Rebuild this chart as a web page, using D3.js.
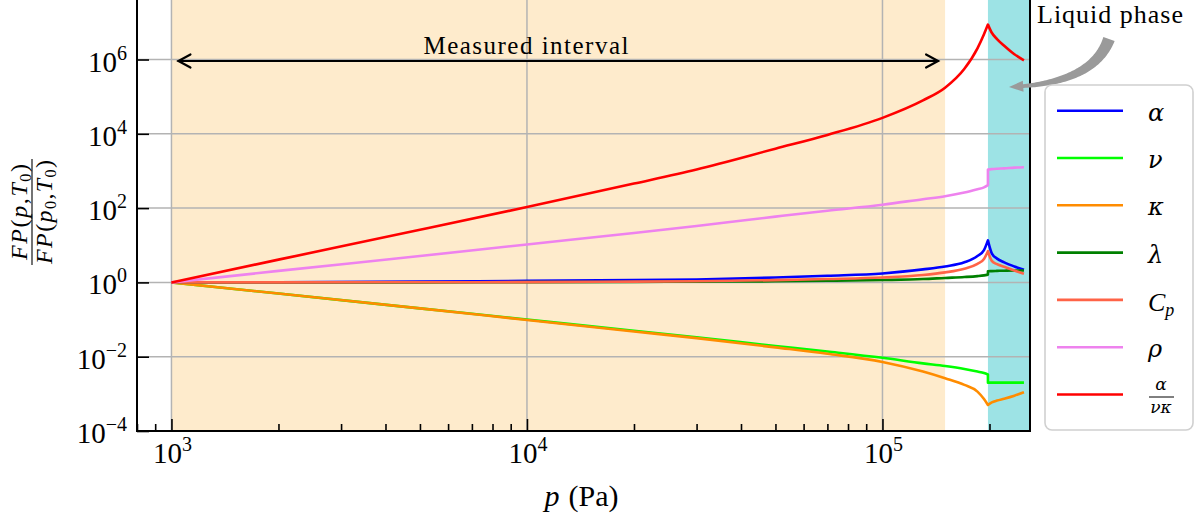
<!DOCTYPE html>
<html>
<head>
<meta charset="utf-8">
<script src="https://cdn.jsdelivr.net/npm/d3@7"></script>
<style>
  body { margin: 0; background: #fff; }
  svg { display: block; }
  text { font-family: "Liberation Serif", "Times New Roman", serif; fill: #000; }
  .greek { font-family: "DejaVu Serif", serif; font-style: italic; }
</style>
</head>
<body>
<svg id="chart" width="1198" height="517"></svg>
<script>
// Pressure grid (Pa). The saturation pressure appears twice: vapour value, then liquid value.
const pressure = [1e3, 2e3, 5e3, 1e4, 2e4, 3e4, 5e4, 7e4, 1e5, 1.3e5, 1.5e5, 1.7e5, 1.85e5, 1.93e5, 1.98e5,
                  1.98e5, 2.03e5, 2.1e5, 2.2e5, 2.35e5, 2.5e5];
const saturationPressure = 1.98e5;
const measuredInterval = [1e3, 1.5e5];

// Property ratios FP(p,T0)/FP(p0,T0)
const alphaRatio  = [1, 1.01, 1.05, 1.10, 1.15, 1.20, 1.35, 1.51, 1.74, 2.24, 2.69, 3.47, 5.13, 7.41, 13.5,
                     13.5, 6.03, 4.37, 3.47, 2.69, 2.19];
const nuRatio     = [1, 0.501, 0.200, 0.100, 0.0501, 0.0331, 0.0195, 0.0138, 0.00933, 0.00661, 0.00562, 0.00468, 0.00398, 0.00363, 0.00331,
                     0.00200, 0.00200, 0.00200, 0.00200, 0.00200, 0.00200];
const kappaRatio  = [1, 0.501, 0.200, 0.0977, 0.0479, 0.0316, 0.0178, 0.0120, 0.00724, 0.00398, 0.00263, 0.00174, 0.00115, 0.000724, 0.000501,
                     0.000501, 0.000589, 0.000661, 0.000741, 0.000891, 0.00110];
const lambdaRatio = [1, 1.002, 1.005, 1.016, 1.03, 1.047, 1.072, 1.109, 1.161, 1.23, 1.318, 1.396, 1.479, 1.549, 1.622,
                     1.995, 2.018, 2.042, 2.065, 2.089, 2.089];
const cpRatio     = [1, 1.005, 1.01, 1.02, 1.05, 1.07, 1.15, 1.23, 1.35, 1.58, 1.86, 2.34, 3.16, 4.27, 6.92,
                     6.92, 3.80, 3.09, 2.63, 2.09, 1.70];
const rhoRatio    = [1, 2.04, 5.13, 10.5, 21.4, 33.1, 58.9, 85.1, 123, 174, 209, 263, 324, 363, 417,
                     1096, 1122, 1148, 1175, 1230, 1259];
const alphaOverNuKappa = [1, 4.1, 26, 107, 457, 1100, 3980, 9330, 2.69e4, 7.94e4, 1.74e5, 5.62e5, 2.0e6, 4.79e6, 8.71e6,
                          8.71e6, 5.25e6, 3.55e6, 2.34e6, 1.38e6, 9.55e5];

const seriesNames = ["alpha", "nu", "kappa", "lambda", "Cp", "rho", "alpha/(nu kappa)"];
const seriesValues = [alphaRatio, nuRatio, kappaRatio, lambdaRatio, cpRatio, rhoRatio, alphaOverNuKappa];
const seriesColors = ["#0000ff", "#00ff00", "#ff8c00", "#008000", "#ff6347", "#ee82ee", "#ff0000"];

const xTickExponents = [3, 4, 5];
const yTickExponents = [-4, -2, 0, 2, 4, 6];

// ---- layout ----
const svg = d3.select("#chart");
const plotLeft = 137, plotRight = 1030, plotTop = 0, plotBottom = 431;

const x = d3.scaleLog().domain([800, 2.6e5]).range([plotLeft, plotRight]);
const y = d3.scaleLog().domain([1e-4, 4e7]).range([plotBottom, plotTop]);

svg.append("defs").append("clipPath").attr("id", "plotClip")
  .append("rect").attr("x", plotLeft).attr("y", plotTop)
  .attr("width", plotRight - plotLeft).attr("height", plotBottom - plotTop);

const plot = svg.append("g").attr("clip-path", "url(#plotClip)");

// shaded regions
plot.append("rect")
  .attr("x", x(measuredInterval[0])).attr("y", plotTop)
  .attr("width", x(measuredInterval[1]) - x(measuredInterval[0])).attr("height", plotBottom - plotTop)
  .attr("fill", "#feebcc");
plot.append("rect")
  .attr("x", x(saturationPressure)).attr("y", plotTop)
  .attr("width", plotRight - x(saturationPressure)).attr("height", plotBottom - plotTop)
  .attr("fill", "#9de3e5");

// grid
const gridColor = "#b3b3b3";
xTickExponents.forEach(e => {
  plot.append("line").attr("x1", x(10 ** e)).attr("x2", x(10 ** e))
    .attr("y1", plotTop).attr("y2", plotBottom).attr("stroke", gridColor).attr("stroke-width", 1.5);
});
yTickExponents.forEach(e => {
  plot.append("line").attr("x1", plotLeft).attr("x2", plotRight)
    .attr("y1", y(10 ** e)).attr("y2", y(10 ** e)).attr("stroke", gridColor).attr("stroke-width", 1.5);
});

// curves: vapour branch and liquid branch joined at the saturation pressure
const line = d3.line().x(d => x(d[0])).y(d => y(d[1])).curve(d3.curveMonotoneX);
const split = pressure.lastIndexOf(saturationPressure);
function curvePath(values) {
  const pts = pressure.map((p, i) => [p, values[i]]);
  return line(pts.slice(0, split)) + line(pts.slice(split)).replace(/^M/, "L");
}
seriesValues.forEach((vals, i) => {
  plot.append("path").attr("d", curvePath(vals))
    .attr("fill", "none").attr("stroke", seriesColors[i])
    .attr("stroke-width", 2.6).attr("stroke-linejoin", "round");
});

// measured interval double arrow
const arrowY = y(1e6) + 1.5;
const ax0 = x(measuredInterval[0]) + 7, ax1 = x(measuredInterval[1]) - 7;
const arrow = svg.append("g").attr("stroke", "#000").attr("stroke-width", 2.2).attr("fill", "none")
  .attr("stroke-linecap", "round").attr("stroke-linejoin", "miter");
arrow.append("line").attr("x1", ax0).attr("x2", ax1).attr("y1", arrowY).attr("y2", arrowY);
arrow.append("path").attr("d", `M${ax0 + 12},${arrowY - 6.5}L${ax0},${arrowY}L${ax0 + 12},${arrowY + 6.5}`);
arrow.append("path").attr("d", `M${ax1 - 12},${arrowY - 6.5}L${ax1},${arrowY}L${ax1 - 12},${arrowY + 6.5}`);
svg.append("text").attr("x", x(1e4) - 1).attr("y", arrowY - 7)
  .attr("text-anchor", "middle").attr("font-size", 25).attr("textLength", 205)
  .text("Measured interval");

// spines
const spines = svg.append("g").attr("stroke", "#000").attr("stroke-width", 2).attr("fill", "none");
spines.append("path").attr("d", `M${plotLeft},${plotTop}V${plotBottom}H${plotRight}V${plotTop}`);

// ticks (inward)
const majorX = xTickExponents.map(e => 10 ** e);
const minorX = x.ticks().filter(v => !majorX.some(m => Math.abs(m - v) < 1e-6));
const axisStyle = g => {
  g.select(".domain").remove();
  g.selectAll(".tick line").attr("stroke", "#000").attr("stroke-width", 1.6);
  g.selectAll(".tick text").remove();
};
svg.append("g").attr("transform", `translate(0,${plotBottom})`)
  .call(d3.axisBottom(x).tickValues(minorX).tickSizeInner(-7).tickSizeOuter(0)).call(axisStyle);
svg.append("g").attr("transform", `translate(0,${plotBottom})`)
  .call(d3.axisBottom(x).tickValues(majorX).tickSizeInner(-12).tickSizeOuter(0)).call(axisStyle);
svg.append("g").attr("transform", `translate(${plotLeft},0)`)
  .call(d3.axisLeft(y).tickValues(yTickExponents.map(e => 10 ** e)).tickSizeInner(-12).tickSizeOuter(0)).call(axisStyle);

// tick labels: 10 with superscript exponent
function powerLabel(sel, e) {
  sel.append("tspan").text("10");
  sel.append("tspan").attr("font-size", 20).attr("dy", -12).text(e < 0 ? "\u2212" + Math.abs(e) : String(e));
}
xTickExponents.forEach(e => {
  svg.append("text").attr("x", x(10 ** e) + 1).attr("y", plotBottom + 32)
    .attr("text-anchor", "middle").attr("font-size", 29).call(powerLabel, e);
});
yTickExponents.forEach(e => {
  svg.append("text").attr("x", 127).attr("y", y(10 ** e) + 12)
    .attr("text-anchor", "end").attr("font-size", 29).call(powerLabel, e);
});

// x axis title
const xt = svg.append("text").attr("x", (plotLeft + plotRight) / 2 - 2).attr("y", 506)
  .attr("text-anchor", "middle").attr("font-size", 30);
xt.append("tspan").attr("font-style", "italic").text("p");
xt.append("tspan").attr("dx", 9).text("(Pa)");

// y axis title: fraction FP(p,T0)/FP(p0,T0), rotated
const yl = svg.append("g").attr("transform", "translate(32,212) rotate(-90)");
yl.append("line").attr("x1", -53).attr("x2", 53).attr("y1", 0).attr("y2", 0)
  .attr("stroke", "#000").attr("stroke-width", 1.1);
function fracPart(g, yPos, sub, len) {
  const t = g.append("text").attr("x", 0).attr("y", yPos).attr("text-anchor", "middle")
    .attr("font-size", 24).attr("textLength", len);
  t.append("tspan").attr("font-style", "italic").text("FP");
  t.append("tspan").text("(");
  t.append("tspan").attr("font-style", "italic").text("p");
  if (sub) t.append("tspan").attr("font-size", 16).attr("dy", 4).text("0");
  t.append("tspan").attr("dy", sub ? -4 : 0).text(",");
  t.append("tspan").attr("font-style", "italic").text("T");
  t.append("tspan").attr("font-size", 16).attr("dy", 4).text("0");
  t.append("tspan").attr("dy", -4).text(")");
}
fracPart(yl, -5, false, 96);
fracPart(yl, 20, true, 104);

// liquid phase annotation
svg.append("text").attr("x", 1037).attr("y", 23).attr("font-size", 26).attr("textLength", 146)
  .text("Liquid phase");

function fancyArrow(p0, p1, p2, tailW, neckW, headW, headL) {
  const N = 80, pts = [];
  for (let i = 0; i <= N; i++) {
    const t = i / N, u = 1 - t;
    pts.push([u * u * p0[0] + 2 * u * t * p1[0] + t * t * p2[0], u * u * p0[1] + 2 * u * t * p1[1] + t * t * p2[1]]);
  }
  const cum = [0];
  for (let i = 1; i <= N; i++) cum.push(cum[i - 1] + Math.hypot(pts[i][0] - pts[i - 1][0], pts[i][1] - pts[i - 1][1]));
  const L = cum[N], neckAt = L - headL;
  const leftSide = [], rightSide = [];
  let neckIdx = 0;
  for (let i = 0; i <= N; i++) {
    if (cum[i] > neckAt) break;
    neckIdx = i;
    const j = Math.min(i + 1, N), k = Math.max(i - 1, 0);
    const dx = pts[j][0] - pts[k][0], dy = pts[j][1] - pts[k][1], d = Math.hypot(dx, dy);
    const nx = -dy / d, ny = dx / d;
    const w = (tailW + (neckW - tailW) * (cum[i] / neckAt)) / 2;
    leftSide.push([pts[i][0] + nx * w, pts[i][1] + ny * w]);
    rightSide.push([pts[i][0] - nx * w, pts[i][1] - ny * w]);
  }
  const nk = pts[neckIdx], tip = pts[N];
  const dx = tip[0] - nk[0], dy = tip[1] - nk[1], d = Math.hypot(dx, dy);
  const nx = -dy / d, ny = dx / d;
  const poly = [...leftSide,
    [nk[0] + nx * headW / 2, nk[1] + ny * headW / 2], tip,
    [nk[0] - nx * headW / 2, nk[1] - ny * headW / 2],
    ...rightSide.reverse()];
  return "M" + poly.map(p => p[0].toFixed(2) + "," + p[1].toFixed(2)).join("L") + "Z";
}
svg.append("path")
  .attr("d", fancyArrow([1109, 39], [1093, 84], [1009, 87], 12, 3.5, 11, 13))
  .attr("fill", "#9a9a9a");

// legend
const legend = svg.append("g");
legend.append("rect").attr("x", 1045).attr("y", 85).attr("width", 148).attr("height", 345)
  .attr("rx", 7).attr("fill", "#fff").attr("fill-opacity", 0.85)
  .attr("stroke", "#d0d0d0").attr("stroke-width", 1.6);
seriesNames.forEach((name, i) => {
  const ly = 110.7 + i * 47.3;
  legend.append("line").attr("x1", 1057).attr("x2", 1123).attr("y1", ly).attr("y2", ly)
    .attr("stroke", seriesColors[i]).attr("stroke-width", 2.6);
  const lx = 1148;
  if (name === "alpha/(nu kappa)") {
    legend.append("text").attr("class", "greek").attr("x", 1161).attr("y", ly - 5).attr("text-anchor", "middle")
      .attr("font-size", 17).text("\u03b1");
    legend.append("line").attr("x1", 1149).attr("x2", 1174).attr("y1", ly + 2.5).attr("y2", ly + 2.5)
      .attr("stroke", "#000").attr("stroke-width", 1);
    legend.append("text").attr("class", "greek").attr("x", 1161).attr("y", ly + 18).attr("text-anchor", "middle")
      .attr("font-size", 17).text("\u03bd\u03ba");
  } else if (name === "Cp") {
    const t = legend.append("text").attr("x", lx).attr("y", ly + 11).attr("font-size", 26).attr("font-style", "italic");
    t.append("tspan").text("C");
    t.append("tspan").attr("font-size", 18).attr("dy", 5).text("p");
  } else {
    const glyph = { alpha: "\u03b1", nu: "\u03bd", kappa: "\u03ba", lambda: "\u03bb", rho: "\u03c1" }[name];
    legend.append("text").attr("class", "greek").attr("x", lx).attr("y", ly + 10).attr("font-size", 24).text(glyph);
  }
});
</script>
</body>
</html>
